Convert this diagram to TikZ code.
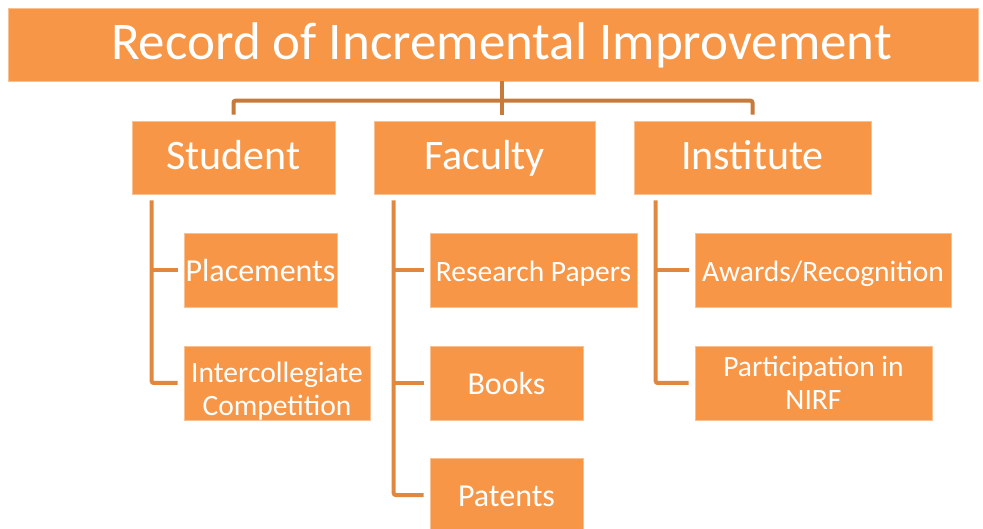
\documentclass[tikz,border=0pt]{standalone}
\usepackage{fontspec}
\setmainfont{Carlito}
\usepackage{xcolor}
\usetikzlibrary{calc}
\definecolor{boxfill}{HTML}{F79646}
\definecolor{boxedge}{HTML}{FAC090}
\definecolor{topline}{HTML}{C67A3C}
\definecolor{subline}{HTML}{E0883F}

\begin{document}
\begin{tikzpicture}[x=1pt,y=-1pt,
    block/.style={fill=boxfill,draw=boxedge,line width=0.6pt,text=white,
        inner sep=0pt,align=center},
    headbox/.style={block,minimum height=73pt,font=\fontsize{42}{48}\selectfont,
        text height=30pt,text depth=6pt},
    itembox/.style={block,minimum height=74pt,font=\fontsize{29.5}{33}\selectfont},
    oneline/.style={text height=23pt,text depth=0pt},
    bigitem/.style={itembox,oneline,font=\fontsize{32}{36}\selectfont},
    topline/.style={draw=topline,line width=4pt,rounded corners=2pt},
    subline/.style={draw=subline,line width=4pt,rounded corners=2pt}
]
\useasboundingbox (0,0) rectangle (983,529);

% Boxes
\node[block,minimum width=970pt,minimum height=73pt,
      font=\fontsize{53}{60}\selectfont,text height=34pt,text depth=3pt]
      (title) at (493,44.5) {\hspace*{17pt}Record of Incremental Improvement};

\node[headbox,minimum width=203pt] (student)   at (233.5,157.5) {Student};
\node[headbox,minimum width=221pt] (faculty)   at (484.5,157.5) {Faculty};
\node[headbox,minimum width=237pt] (institute) at (752.5,157.5) {Institute};

\node[bigitem,minimum width=153pt] (placements) at (260.5,270) {Placements};
\node[itembox,minimum width=186pt] (intercoll) at (277,383)
      {\rule{0pt}{36pt}Intercollegiate\\Competition};

\node[itembox,oneline,minimum width=207pt] (papers) at (533.5,270) {Research Papers};
\node[bigitem,minimum width=153pt] (books)   at (506.5,383) {Books};
\node[bigitem,minimum width=153pt] (patents) at (506.5,495) {Patents};

\node[itembox,oneline,minimum width=256pt] (awards) at (823,270.5) {Awards/Recognition};
\node[itembox,minimum width=237pt] (nirf) at (813.5,383) {Participation in\\NIRF};

% Top level connector
\coordinate (hub) at (502,101);
\draw[topline] (title.south -| hub) -- (hub);
\draw[topline] ([yshift=6pt]student.north) -- ++(0,-14) -| ([yshift=6pt]institute.north);
\draw[topline] (hub) -- ([yshift=6pt]faculty.north -| hub);

% Student branch
\coordinate (sbar) at ([shift={(20pt,-6pt)}]student.south west);
\draw[subline] (sbar) |- ([xshift=-6pt]intercoll.west);
\draw[subline] (sbar |- placements.west) -- ([xshift=-6pt]placements.west);

% Faculty branch
\coordinate (fbar) at ([shift={(20pt,-6pt)}]faculty.south west);
\draw[subline] (fbar) |- ([xshift=-6pt]patents.west);
\draw[subline] (fbar |- papers.west) -- ([xshift=-6pt]papers.west);
\draw[subline] (fbar |- books.west) -- ([xshift=-6pt]books.west);

% Institute branch
\coordinate (ibar) at ([shift={(22pt,-6pt)}]institute.south west);
\draw[subline] (ibar) |- ([xshift=-6pt]nirf.west);
\draw[subline] (ibar |- awards.west) -- ([xshift=-6pt]awards.west);

\end{tikzpicture}
\end{document}
